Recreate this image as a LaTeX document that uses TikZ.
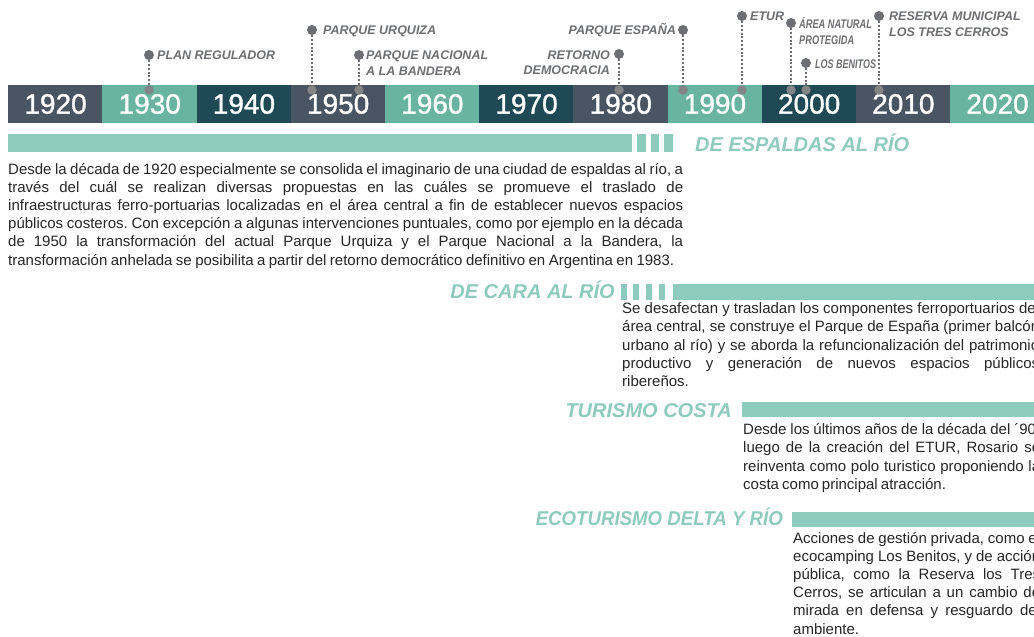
\documentclass[tikz,border=0pt]{standalone}
\usepackage{fontspec}
\setmainfont{Liberation Sans}
\newfontfamily\yearfont{Liberation Sans}[FakeBold=1.2]
\newfontfamily\bodyfont{Liberation Sans}[WordSpace=0.75]
\usepackage{graphicx}
\frenchspacing
\definecolor{cslate}{HTML}{4A5563}
\definecolor{cteal}{HTML}{68B4A0}
\definecolor{cdark}{HTML}{1F4955}
\definecolor{clight}{HTML}{8ECBBD}
\definecolor{cmark}{HTML}{6D6E71}
\definecolor{cbody}{HTML}{262626}
\newcommand\fitline[2]{\sbox0{#2}\ifdim\wd0>#1\relax\resizebox{#1}{\height}{\usebox0}\else\makebox[#1][s]{#2}\fi}
\tikzset{
 yearbox/.style={rectangle, inner sep=0, minimum width=94.7pt, minimum height=38pt, text=white, font=\yearfont\fontsize{28}{28}\selectfont, anchor=west},
 mdot/.style={circle, fill=cmark, inner sep=0, minimum size=10pt},
 bdot/.style={circle, fill=cmark!85!white, inner sep=0, minimum size=9.5pt},
 dotline/.style={draw=cmark, line width=2.4pt, dash pattern=on 2pt off 1.8pt},
 mlabel/.style={inner sep=0, text=cmark, font=\fontsize{12.5}{12.5}\selectfont\bfseries\itshape},
 heading/.style={inner sep=0, text=clight, font=\fontsize{20}{20}\selectfont\bfseries\itshape},
 band/.style={fill=clight},
 body/.style={inner sep=0, anchor=base west, text=cbody, font=\bodyfont\fontsize{15}{15}\selectfont\frenchspacing},
}
\begin{document}
\begin{tikzpicture}[x=1pt,y=-1pt]
\useasboundingbox[fill=white] (0,0) rectangle (1034,637);
\clip (0,0) rectangle (1034,637);
% timeline
\node[yearbox, fill=cslate] (y1920) at (8,104) {1920};
\node[yearbox, fill=cteal]  (y1930) at (102.2,104) {1930};
\node[yearbox, fill=cdark]  (y1940) at (196.4,104) {1940};
\node[yearbox, fill=cslate] (y1950) at (290.6,104) {1950};
\node[yearbox, fill=cteal]  (y1960) at (384.8,104) {1960};
\node[yearbox, fill=cdark]  (y1970) at (479,104) {1970};
\node[yearbox, fill=cslate] (y1980) at (573.2,104) {1980};
\node[yearbox, fill=cteal]  (y1990) at (667.4,104) {1990};
\node[yearbox, fill=cdark]  (y2000) at (761.6,104) {2000};
\node[yearbox, fill=cslate] (y2010) at (855.8,104) {2010};
\node[yearbox, fill=cteal]  (y2020) at (950,104) {2020};
% markers
\node[mdot] (t1) at (149,55) {};  \node[bdot] (b1) at (149,90) {};
\node[mdot] (t2) at (312,30) {};  \node[bdot] (b2) at (312,90) {};
\node[mdot] (t3) at (359,55) {};  \node[bdot] (b3) at (359,90) {};
\node[mdot] (t4) at (619,54) {};  \node[bdot] (b4) at (619,90) {};
\node[mdot] (t5) at (683,30) {};  \node[bdot] (b5) at (683,90) {};
\node[mdot] (t6) at (742,16) {};  \node[bdot] (b6) at (742,90) {};
\node[mdot] (t7) at (791,23) {};  \node[bdot] (b7) at (791,90) {};
\node[mdot] (t8) at (806,63) {};  \node[bdot] (b8) at (806,90) {};
\node[mdot] (t9) at (879,16) {};  \node[bdot] (b9) at (879,90) {};
\foreach \i in {1,...,9} {\draw[dotline] (t\i) -- (b\i);}
\node[mlabel, anchor=base west] (l1) at (157,59.5) {PLAN REGULADOR};
\node[mlabel, anchor=base west] (l2) at (323,34.5) {PARQUE URQUIZA};
\node[mlabel, anchor=base west] (l3a) at (366,59.5) {PARQUE NACIONAL};
\node[mlabel, anchor=base west] (l3b) at (366,75) {A LA BANDERA};
\node[mlabel, anchor=base east] (l4a) at (610,59) {RETORNO};
\node[mlabel, anchor=base east] (l4b) at (610,74.5) {DEMOCRACIA};
\node[mlabel, anchor=base east] (l5) at (676,34.5) {PARQUE ESPAÑA};
\node[mlabel, anchor=base west] (l6) at (750,20.5) {ETUR};
\node[mlabel, anchor=base west] (l7a) at (799,28.5) {\scalebox{0.74}[1]{ÁREA NATURAL}};
\node[mlabel, anchor=base west] (l7b) at (799,44) {\scalebox{0.74}[1]{PROTEGIDA}};
\node[mlabel, anchor=base west] (l8) at (815,68) {\scalebox{0.72}[1]{LOS BENITOS}};
\node[mlabel, anchor=base west] (l9a) at (889,20.5) {RESERVA MUNICIPAL};
\node[mlabel, anchor=base west] (l9b) at (889,36) {LOS TRES CERROS};
% section 1
\fill[band] (8,134) rectangle (632,152);
\fill[band] (637,134) rectangle (646,152);
\fill[band] (651,134) rectangle (659,152);
\fill[band] (664,134) rectangle (673,152);
\node[heading, anchor=base west] (h1) at (695,151) {DE ESPALDAS AL RÍO};
\node[body] (p1a) at (8,174) {\fitline{675pt}{Desde la década de 1920 especialmente se consolida el imaginario de una ciudad de espaldas al río, a}};
\node[body] (p1b) at (8,192.2) {\fitline{675pt}{través del cuál se realizan diversas propuestas en las cuáles se promueve el traslado de}};
\node[body] (p1c) at (8,210.4) {\fitline{675pt}{infraestructuras ferro-portuarias localizadas en el área central a fin de establecer nuevos espacios}};
\node[body] (p1d) at (8,228.6) {\fitline{675pt}{públicos costeros. Con excepción a algunas intervenciones puntuales, como por ejemplo en la década}};
\node[body] (p1e) at (8,246.8) {\fitline{675pt}{de 1950 la transformación del actual Parque Urquiza y el Parque Nacional a la Bandera, la}};
\node[body] (p1f) at (8,265) {\fitline{666pt}{transformación anhelada se posibilita a partir del retorno democrático definitivo en Argentina en 1983.}};
% section 2
\fill[band] (621,284) rectangle (627,300);
\fill[band] (633,284) rectangle (639,300);
\fill[band] (646,284) rectangle (652,300);
\fill[band] (659,284) rectangle (665,300);
\fill[band] (673,284) rectangle (1034,300);
\node[heading, anchor=base east] (h2) at (615,298) {DE CARA AL RÍO};
\node[body] (p2a) at (622,313.5) {\fitline{417pt}{Se desafectan y trasladan los componentes ferroportuarios del}};
\node[body] (p2b) at (622,331.8) {\fitline{417pt}{área central, se construye el Parque de España (primer balcón}};
\node[body] (p2c) at (622,350.1) {\fitline{417pt}{urbano al río) y se aborda la refuncionalización del patrimonio}};
\node[body] (p2d) at (622,368.4) {\fitline{417pt}{productivo y generación de nuevos espacios públicos}};
\node[body] (p2e) at (622,386.7) {ribereños.};
% section 3
\fill[band] (742,402) rectangle (1034,417);
\node[heading, anchor=base east] (h3) at (732,417) {TURISMO COSTA};
\node[body] (p3a) at (743,434) {\fitline{297pt}{Desde los últimos años de la década del ´90,}};
\node[body] (p3b) at (743,452.5) {\fitline{297pt}{luego de la creación del ETUR, Rosario se}};
\node[body] (p3c) at (743,471) {\fitline{297pt}{reinventa como polo turistico proponiendo la}};
\node[body] (p3d) at (743,489.5) {costa como principal atracción.};
% section 4
\fill[band] (792,512) rectangle (1034,527);
\node[heading, anchor=base east] (h4) at (783,525) {\resizebox{247pt}{\height}{ECOTURISMO DELTA Y RÍO}};
\node[body] (p4a) at (793,543) {\fitline{247pt}{Acciones de gestión privada, como el}};
\node[body] (p4b) at (793,561.2) {\fitline{247pt}{ecocamping Los Benitos, y de acción}};
\node[body] (p4c) at (793,579.4) {\fitline{247pt}{pública, como la Reserva los Tres}};
\node[body] (p4d) at (793,597.6) {\fitline{247pt}{Cerros, se articulan a un cambio de}};
\node[body] (p4e) at (793,615.8) {\fitline{247pt}{mirada en defensa y resguardo del}};
\node[body] (p4f) at (793,634) {ambiente.};
\end{tikzpicture}
\end{document}
